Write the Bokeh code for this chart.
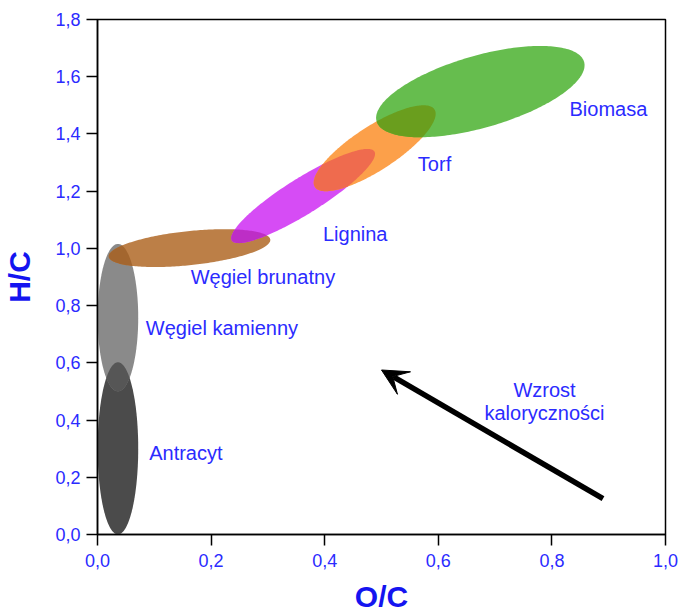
import numpy as np
from bokeh.plotting import figure
from bokeh.models import ColumnDataSource, Arrow, VeeHead, FixedTicker, CustomJSTickFormatter
from bokeh.core.properties import value
from bokeh.embed import file_html
from bokeh.resources import INLINE

# ---------------- data ----------------
regions = ["Antracyt", "Węgiel kamienny", "Węgiel brunatny", "Lignina", "Torf", "Biomasa"]
oc_center = [0.036, 0.036, 0.162, 0.362, 0.488, 0.674]
hc_center = [0.301, 0.758, 1.001, 1.183, 1.350, 1.548]
oc_span = [0.0714, 0.0714, 0.286, 0.296, 0.251, 0.380]
hc_span = [0.602, 0.515, 0.119, 0.126, 0.154, 0.252]
tilt_deg = [0, 0, 6, 32, 33, 16]
region_colors = ["#4B4B4B", "#8A8A8A", "#BC7F47", "#D64CF5", "#FCA04A", "#66BD4E"]

# overlapping pairs (index a, index b) and the colour of their common part
overlap_pairs = [(0, 1), (1, 2), (2, 3), (3, 4), (4, 5)]
overlap_colors = ["#565656", "#A3662F", "#BD2EC6", "#EF6B4E", "#6A9E1E"]

label_text = ["Antracyt", "Węgiel kamienny", "Węgiel brunatny", "Lignina", "Torf", "Biomasa"]
label_x = [0.091, 0.085, 0.164, 0.397, 0.564, 0.831]
label_y = [0.284, 0.721, 0.900, 1.050, 1.296, 1.488]

arrow_text = ["Wzrost", "kaloryczności"]
arrow_text_x = [0.787, 0.787]
arrow_text_y = [0.504, 0.424]
arrow_start = (0.89, 0.125)
arrow_end = (0.50, 0.575)

x_ticks = [0.0, 0.2, 0.4, 0.6, 0.8, 1.0]
y_ticks = [0.0, 0.2, 0.4, 0.6, 0.8, 1.0, 1.2, 1.4, 1.6, 1.8]
x_title = "O/C"
y_title = "H/C"

# ---------------- figure ----------------
X0, X1, Y0, Y1 = 0.0, 1.0, 0.0, 1.8
FW, FH = 568, 515
SX = FW / (X1 - X0)
SY = FH / (Y1 - Y0)

BLUE = "#2B2BFF"
TITLE_BLUE = "#1414F0"
FONT = "Liberation Sans"

p = figure(frame_width=FW, frame_height=FH, x_range=(X0, X1), y_range=(Y0, Y1),
           output_backend="svg", toolbar_location=None,
           min_border_left=95, min_border_right=13, min_border_top=19, min_border_bottom=4)
p.grid.visible = False
p.outline_line_color = "black"
p.outline_line_width = 1.5
p.background_fill_color = "white"
p.border_fill_color = "white"


def ellipse_poly(cx, cy, w, h, ang, n=240):
    t = np.linspace(0, 2 * np.pi, n, endpoint=False)
    a = w / 2 * SX
    b = h / 2 * SY
    th = np.radians(ang)
    dx = a * np.cos(t) * np.cos(th) - b * np.sin(t) * np.sin(th)
    dy = a * np.cos(t) * np.sin(th) + b * np.sin(t) * np.cos(th)
    # in screen-proportional units (pixels), counter-clockwise
    return list(zip(cx * SX + dx, cy * SY + dy))


def clip(subject, clipper):
    out = subject
    n = len(clipper)
    for i in range(n):
        ax, ay = clipper[i]
        bx, by = clipper[(i + 1) % n]
        inp = out
        out = []
        if not inp:
            break

        def inside(q):
            return (bx - ax) * (q[1] - ay) - (by - ay) * (q[0] - ax) >= 0

        def inter(p1, p2):
            x1, y1 = p1
            x2, y2 = p2
            den = (x1 - x2) * (ay - by) - (y1 - y2) * (ax - bx)
            tt = ((x1 - ax) * (ay - by) - (y1 - ay) * (ax - bx)) / den
            return (x1 + tt * (x2 - x1), y1 + tt * (y2 - y1))

        s = inp[-1]
        for e in inp:
            if inside(e):
                if not inside(s):
                    out.append(inter(s, e))
                out.append(e)
            elif inside(s):
                out.append(inter(s, e))
            s = e
    return out


polys = [ellipse_poly(oc_center[i], hc_center[i], oc_span[i], hc_span[i], tilt_deg[i])
         for i in range(len(regions))]

# main regions
xs_main = [[q[0] / SX for q in poly] for poly in polys]
ys_main = [[q[1] / SY for q in poly] for poly in polys]
p.patches(xs=xs_main, ys=ys_main, fill_color=region_colors, line_color=None)

# overlapping parts
xs_ov, ys_ov, col_ov = [], [], []
for (a, b), c in zip(overlap_pairs, overlap_colors):
    inter_poly = clip(polys[a], polys[b])
    if len(inter_poly) >= 3:
        xs_ov.append([q[0] / SX for q in inter_poly])
        ys_ov.append([q[1] / SY for q in inter_poly])
        col_ov.append(c)
p.patches(xs=xs_ov, ys=ys_ov, fill_color=col_ov, line_color=None)

# labels
lab_src = ColumnDataSource(dict(x=label_x, y=label_y, t=label_text))
p.text(x="x", y="y", text="t", source=lab_src, text_font=value(FONT), text_font_size="20px",
       text_color=BLUE, text_align="left", text_baseline="middle")

arr_src = ColumnDataSource(dict(x=arrow_text_x, y=arrow_text_y, t=arrow_text))
p.text(x="x", y="y", text="t", source=arr_src, text_font=value(FONT), text_font_size="20px",
       text_color=BLUE, text_align="center", text_baseline="middle")

p.add_layout(Arrow(end=VeeHead(size=26, fill_color="black", line_color="black", line_width=1),
                   x_start=arrow_start[0], y_start=arrow_start[1],
                   x_end=arrow_end[0], y_end=arrow_end[1],
                   line_color="black", line_width=5.5))

# axes
fmt = CustomJSTickFormatter(code="return tick.toFixed(1).replace('.', ',');")
p.xaxis.ticker = FixedTicker(ticks=x_ticks)
p.yaxis.ticker = FixedTicker(ticks=y_ticks)
p.xaxis.formatter = fmt
p.yaxis.formatter = fmt
p.xaxis.axis_label = x_title
p.yaxis.axis_label = y_title
for ax in (p.xaxis, p.yaxis):
    ax.axis_line_color = "black"
    ax.axis_line_width = 1.5
    ax.major_tick_line_color = "black"
    ax.major_tick_line_width = 1.5
    ax.major_tick_out = 11
    ax.major_tick_in = 0
    ax.minor_tick_line_color = None
    ax.major_label_text_font = FONT
    ax.major_label_text_font_size = "18px"
    ax.major_label_text_color = BLUE
    ax.axis_label_text_font = FONT
    ax.axis_label_text_font_size = "30px"
    ax.axis_label_text_font_style = "bold"
    ax.axis_label_text_color = TITLE_BLUE
    ax.major_label_standoff = 6
p.xaxis.major_label_standoff = 8
p.xaxis.axis_label_standoff = 10
p.yaxis.axis_label_standoff = 16

open("out.html", "w").write(file_html(p, INLINE))
